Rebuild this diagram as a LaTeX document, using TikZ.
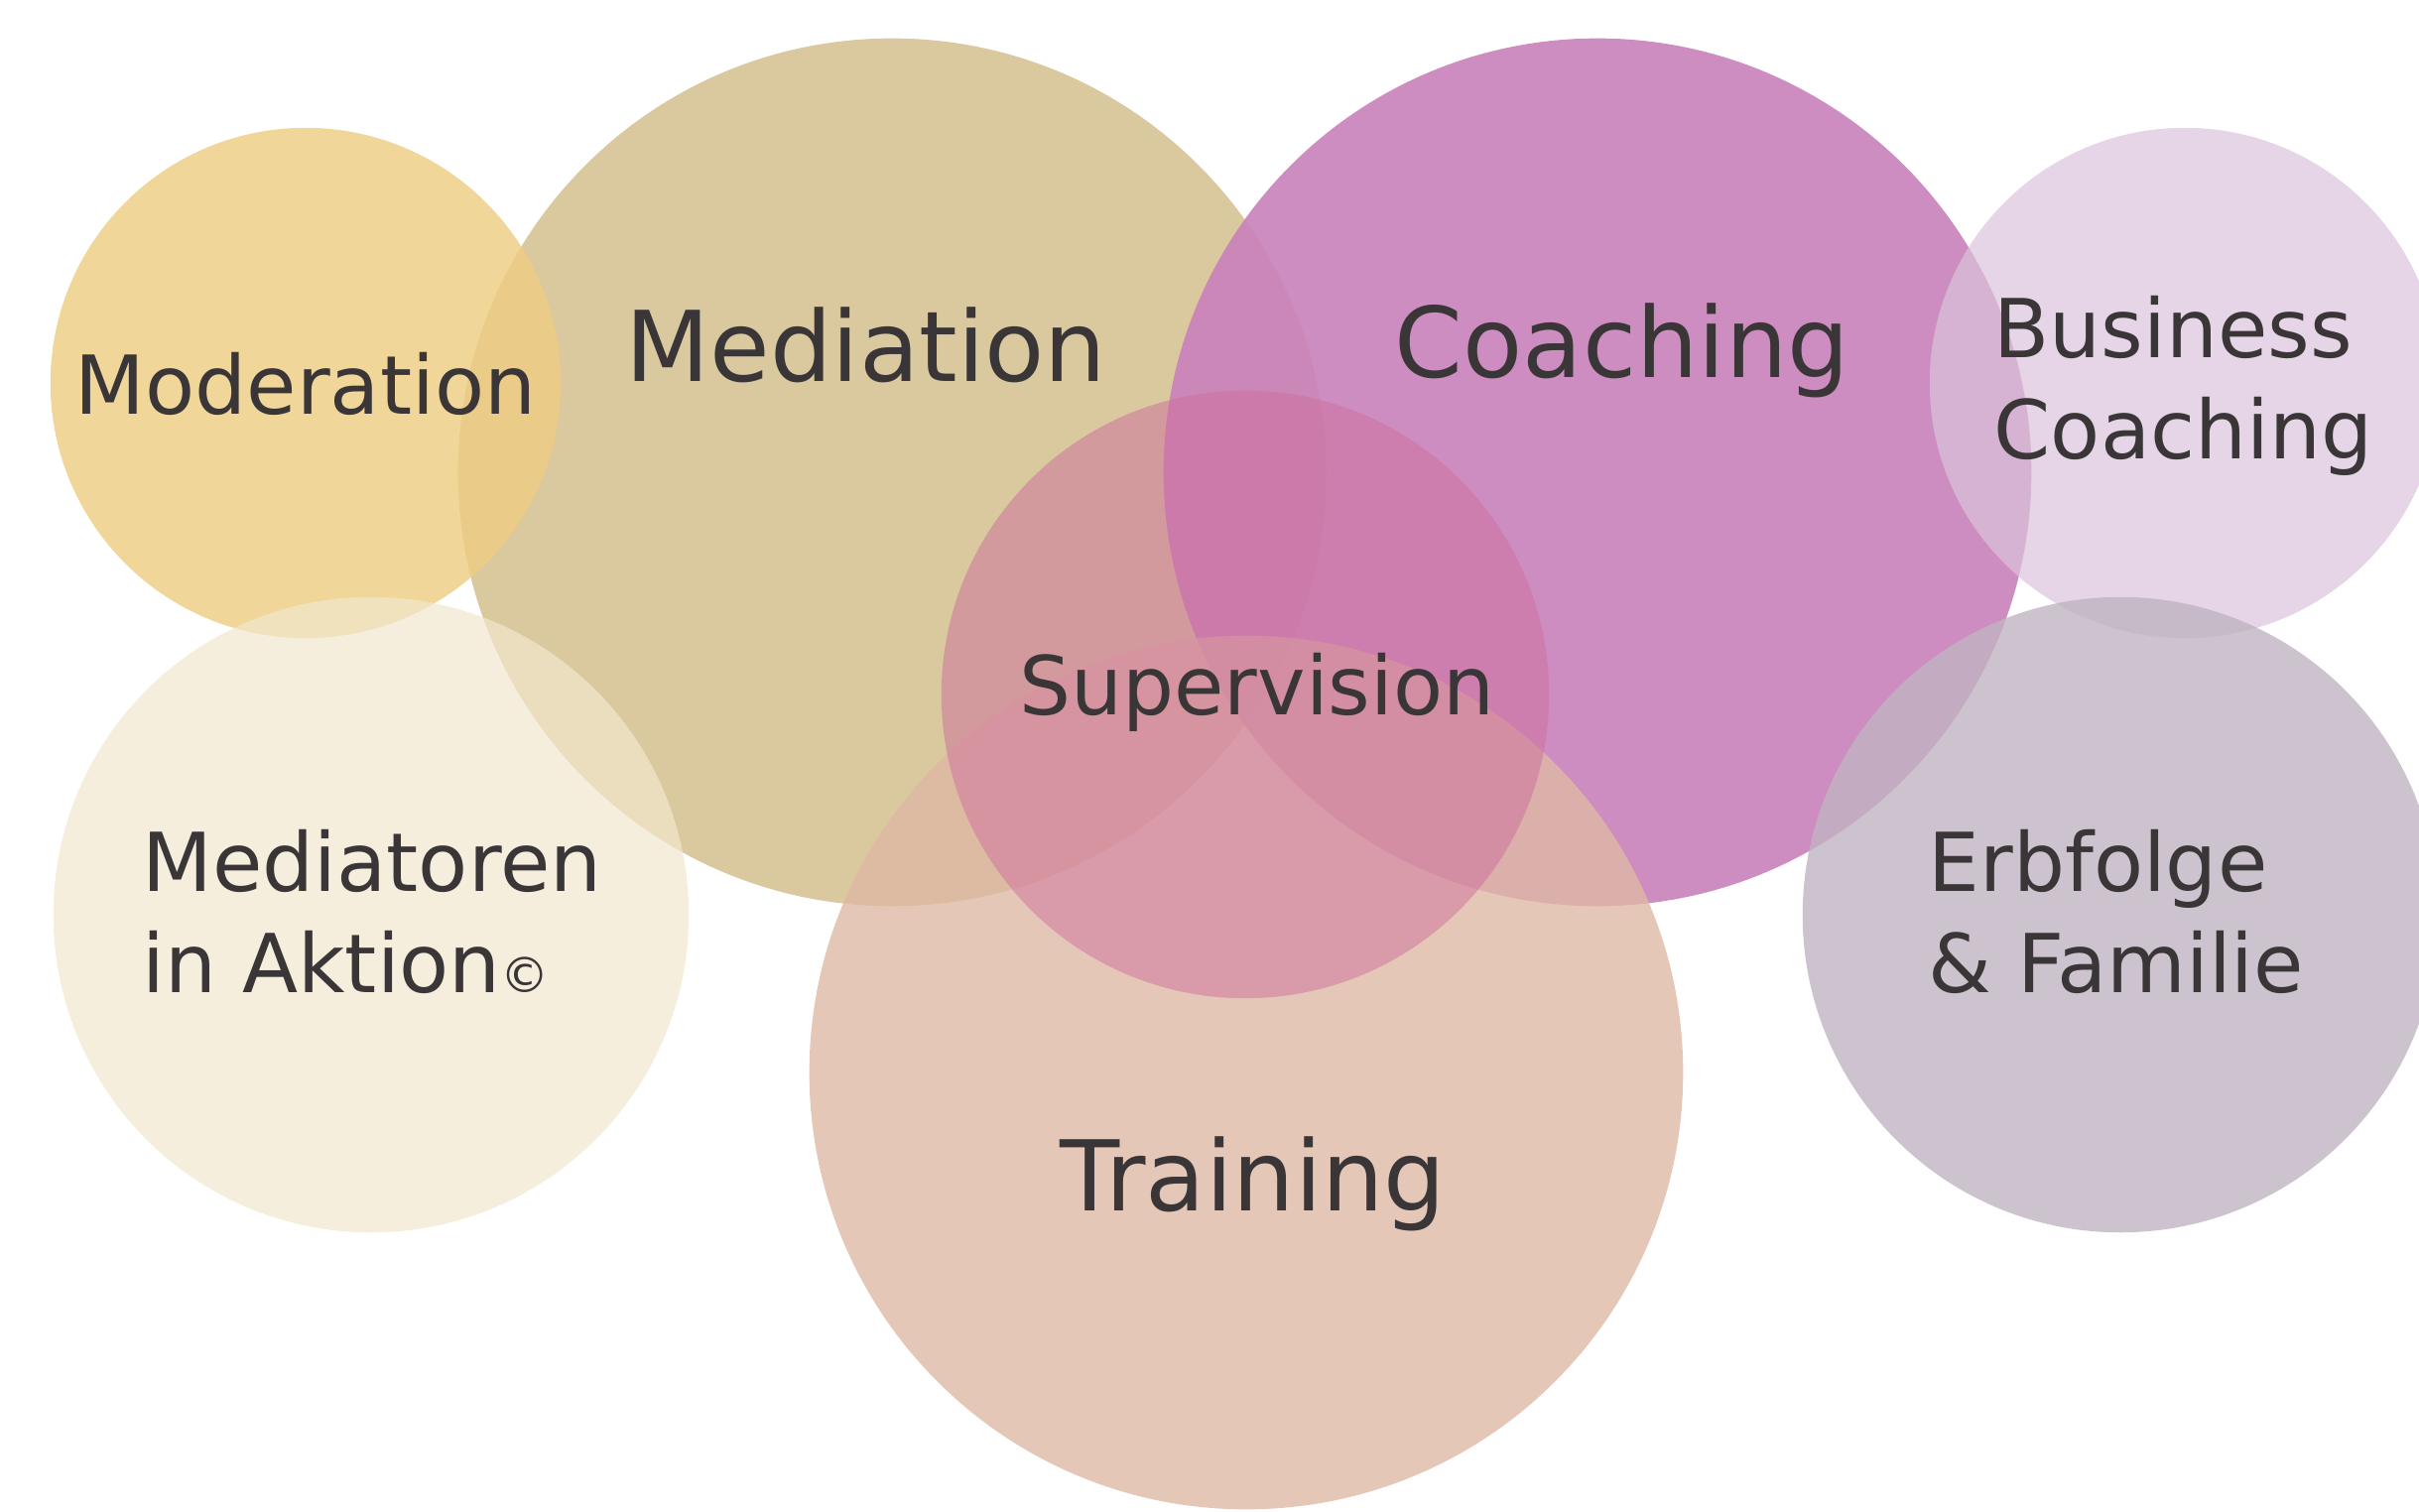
\documentclass[tikz,border=0pt]{standalone}
\usepackage{fontspec}
\setmainfont{DejaVu Sans}
\usetikzlibrary{positioning}

\definecolor{mediationcol}{RGB}{211,190,142}
\definecolor{coachingcol}{RGB}{201,131,187}
\definecolor{moderationcol}{RGB}{238,204,129}
\definecolor{aktioncol}{RGB}{241,231,206}
\definecolor{businesscol}{RGB}{219,195,219}
\definecolor{erbfolgecol}{RGB}{193,180,194}
\definecolor{trainingcol}{RGB}{223,185,165}
\definecolor{supervisioncol}{RGB}{206,110,157}
\definecolor{labelcol}{RGB}{58,54,56}

\tikzset{
  disc/.style={circle, inner sep=0pt, draw=none, minimum size=#1*0.02cm},
  bigtext/.style={font=\fontsize{28}{33}\selectfont, inner sep=0pt},
  smalltext/.style={font=\fontsize{23.3}{29}\selectfont, inner sep=0pt, align=left},
}

\begin{document}
\begin{tikzpicture}[x=0.01cm, y=-0.01cm]
\useasboundingbox (0,0) rectangle (2438,1524);

% Define circles
\path
(899,476) node[disc=437, fill=mediationcol, fill opacity=0.85] (mediation) {}
(1610,476) node[disc=437, fill=coachingcol, fill opacity=0.92] (coaching) {}
(308,386) node[disc=257, fill=moderationcol, fill opacity=0.8] (moderation) {}
(374,922) node[disc=320, fill=aktioncol, fill opacity=0.7] (aktion) {}
(2202,386) node[disc=257, fill=businesscol, fill opacity=0.7] (business) {}
(2137,922) node[disc=320, fill=erbfolgecol, fill opacity=0.8] (erbfolge) {}
(1256,1081) node[disc=440, fill=trainingcol, fill opacity=0.8] (training) {}
(1255,700) node[disc=306, fill=supervisioncol, fill opacity=0.5] (supervision) {}
;

% Labels
\path[text=labelcol]
(moderation) +(0,31) node[smalltext, anchor=base] (moderationlabel) {Moderation}
(mediation) +(-26,-92) node[bigtext, anchor=base] (mediationlabel) {Mediation}
(coaching) +(25,-96) node[bigtext, anchor=base] (coachinglabel) {Coaching}
(supervision) +(12,20) node[smalltext, anchor=base] (supervisionlabel) {Supervision}
(training) +(7,139) node[bigtext, anchor=base] (traininglabel) {Training}
(business) +(-193,76) node[smalltext, anchor=base west] (businesslabel) {Business\\Coaching}
(aktion) +(-231,78) node[smalltext, anchor=base west] (aktionlabel) {Mediatoren\\in Aktion{\fontsize{14}{14}\selectfont ©}}
(erbfolge) +(-194,78) node[smalltext, anchor=base west] (erbfolgelabel) {Erbfolge\\\& Familie}
;

\end{tikzpicture}
\end{document}
